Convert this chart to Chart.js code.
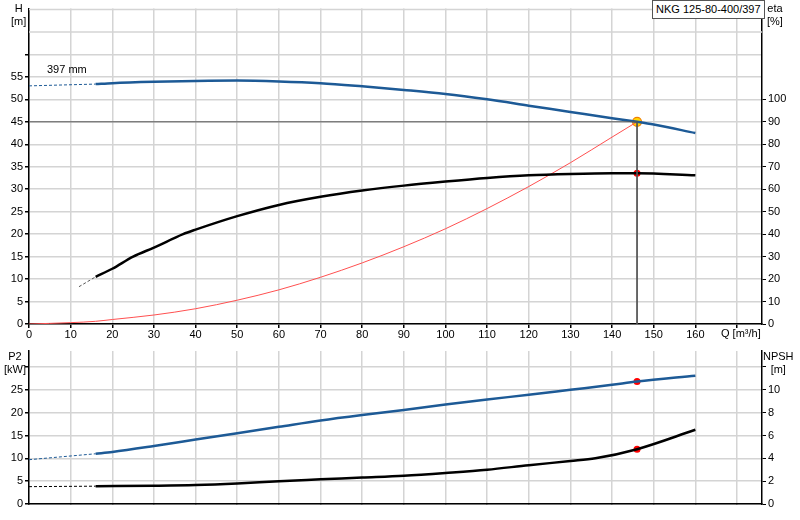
<!DOCTYPE html>
<html><head><meta charset="utf-8">
<script src="https://cdn.jsdelivr.net/npm/chart.js@4.4.1/dist/chart.umd.min.js"></script>
<style>
body{margin:0;background:#fff;width:800px;height:520px;position:relative;overflow:hidden;font-family:"Liberation Sans",Arial,sans-serif;}
canvas{position:absolute;left:0}
.t{position:absolute;font-size:11px;color:#000;line-height:13px}
</style></head><body>
<canvas id="c1" style="top:0;width:800px;height:340px" width="800" height="340"></canvas>
<canvas id="c2" style="top:340px;width:800px;height:180px" width="800" height="180"></canvas>
<div class="t" style="left:11px;top:2px;text-align:center">H<br>[m]</div>
<div class="t" style="left:767px;top:2px;text-align:center">eta<br>[%]</div>
<div class="t" style="left:721px;top:327px">Q [m³/h]</div>
<div class="t" style="left:47px;top:63px">397 mm</div>
<div class="t" style="left:652px;top:0px;border:1px solid #555;padding:2px 3px;background:#fff;height:13px">NKG 125-80-400/397</div>
<div class="t" style="left:4px;top:350px;text-align:center">P2<br>[kW]</div>
<div class="t" style="left:763px;top:350px;text-align:center">NPSH<br>[m]</div>
<script>
// ---- data ----
const qTicks=[0,10,20,30,40,50,60,70,80,90,100,110,120,130,140,150,160];
const hDashQ=[0,16], hDashV=[53,53.4];
const hQ=[16,20,30,40,50,60,70,80,90,100,110,120,130,140,146,150,160];
const hV=[53.4,53.6,53.9,54.1,54.2,54.0,53.6,52.9,52.1,51.2,50.0,48.6,47.2,45.8,45,44.4,42.5];
const etaDashQ=[12,16], etaDashV=[16.6,21];
const etaQ=[16,20,25,30,37,40,50,60,70,80,90,100,110,120,130,140,146,160];
const etaV=[21,24.6,30,34,40,42,48,53,56.6,59.4,61.6,63.4,65,66.2,66.8,67.1,67.1,66.2];
const sysQ=[0,10,16,20,30,40,50,60,70,80,90,100,110,120,130,140,146];
const sysV=[0,0.3,0.6,1,2,3.4,5.3,7.6,10.4,13.6,17.2,21.2,25.7,30.6,35.9,41.6,45];
const dutyQ=146, dutyH=45, dutyEta=67.1;
const p2DashQ=[0,16], p2DashV=[9.7,11.0];
const p2Q=[16,20,30,40,50,60,70,80,90,100,110,120,130,140,146,160];
const p2V=[11.0,11.4,12.7,14.1,15.5,16.9,18.3,19.5,20.6,21.8,22.9,23.9,25.0,26.1,26.8,28.1];
const npDashQ=[0,16], npDashV=[1.52,1.56];
const npQ=[16,30,40,50,60,70,80,90,100,110,120,130,136,146,160];
const npV=[1.56,1.6,1.66,1.8,2.0,2.16,2.32,2.48,2.72,3.0,3.4,3.76,4.0,4.8,6.5];
const dutyP2=26.8, dutyNpsh=4.8;
// ---- helpers ----
const pts=(xs,ys)=>xs.map((x,i)=>({x,y:ys[i]}));
const F={family:"Liberation Sans",size:11};
const ln=(data,color,w,axis,dash,extra)=>Object.assign({data,borderColor:color,backgroundColor:color,borderWidth:w,yAxisID:axis,showLine:true,pointRadius:0,cubicInterpolationMode:'monotone',borderDash:dash||[]},extra||{});
const fitW=(w)=>function(s){s.width=w;};
const fitH=(h)=>function(s){s.height=h;};
const grid={color:'#d4d4d4',lineWidth:1.5,tickLength:4,tickColor:'#000'};
const xScale=(labels)=>({type:'linear',min:0,max:176,afterFit:fitH(16),afterBuildTicks(s){s.ticks=[...qTicks,170].map(v=>({value:v}));},
  grid:Object.assign({},grid,{tickLength:labels?4:0}),border:{color:'#000',width:1.5},
  ticks:{display:labels,color:'#000',font:F,padding:0,maxRotation:0,autoSkip:false,callback:v=>v<=160?v:''}});
Chart.defaults.animation=false;
const dot=(x,y,axis)=>({data:[{x,y}],yAxisID:axis,pointRadius:3.5,pointBackgroundColor:'#f00',pointBorderColor:'#f00',pointBorderWidth:0});
const topGrid={id:'topGrid',beforeDatasetsDraw(c){const a=c.chartArea,y=c.scales.y,ctx=c.ctx;ctx.save();ctx.strokeStyle='#d4d4d4';ctx.lineWidth=1.5;
  [65,70].forEach(v=>{const p=y.getPixelForValue(v);if(p>=a.top-1){ctx.beginPath();ctx.moveTo(a.left,p);ctx.lineTo(a.right,p);ctx.stroke();}});ctx.restore();}};
new Chart(document.getElementById('c1'),{type:'scatter',
 data:{datasets:[
  ln([{x:0,y:dutyH},{x:dutyQ,y:dutyH},{x:dutyQ,y:0}],'#555',1,'y',null,{cubicInterpolationMode:'default',tension:0}),
  ln(pts(hDashQ,hDashV),'#1d5a96',1,'y',[3,2]),
  ln(pts(hQ,hV),'#1d5a96',2.5,'y'),
  ln(pts(etaDashQ,etaDashV),'#555',1,'y2',[3,2]),
  ln(pts(etaQ,etaV),'#000',2.5,'y2'),
  ln(pts(sysQ,sysV),'#ff5050',1,'y'),
  dot(dutyQ,dutyEta,'y2'),
  {data:[{x:dutyQ,y:dutyH}],yAxisID:'y',pointRadius:4.5,pointBackgroundColor:'#ffd700',pointBorderColor:'#f08000',pointBorderWidth:1.2}
 ]},
 plugins:[topGrid],
 options:{responsive:false,devicePixelRatio:1,layout:{padding:{top:0,bottom:0,left:0,right:0}},
  plugins:{legend:{display:false},tooltip:{enabled:false}},
  scales:{x:xScale(true),
   y:{position:'left',min:0,max:70.2,afterFit:fitW(29),afterBuildTicks(s){s.ticks=Array.from({length:13},(_,i)=>({value:i*5}));},
      grid,border:{color:'#000',width:1.5},ticks:{color:'#000',font:F,padding:2,callback:v=>v<=55?v:''}},
   y2:{position:'right',min:0,max:140.4,afterFit:fitW(38),afterBuildTicks(s){s.ticks=Array.from({length:11},(_,i)=>({value:i*10}));},
      grid:{drawOnChartArea:false,tickLength:4,tickColor:'#000'},border:{color:'#000',width:1.5},ticks:{color:'#000',font:F,padding:2}}}}});
new Chart(document.getElementById('c2'),{type:'scatter',
 data:{datasets:[
  ln(pts(p2DashQ,p2DashV),'#1d5a96',1,'y',[3,2]),
  ln(pts(p2Q,p2V),'#1d5a96',2.5,'y'),
  ln(pts(npDashQ,npDashV),'#000',1,'y2',[3,2]),
  ln(pts(npQ,npV),'#000',2.5,'y2'),
  dot(dutyQ,dutyP2,'y'),
  dot(dutyQ,dutyNpsh,'y2')
 ]},
 options:{responsive:false,devicePixelRatio:1,layout:{padding:{top:11,bottom:0}},
  plugins:{legend:{display:false},tooltip:{enabled:false}},
  scales:{x:xScale(false),
   y:{position:'left',min:0,max:33.5,afterFit:fitW(29),afterBuildTicks(s){s.ticks=[0,5,10,15,20,25,30].map(v=>({value:v}));},
      grid,border:{color:'#000',width:1.5},ticks:{color:'#000',font:F,padding:2,callback:v=>v<=25?v:''}},
   y2:{position:'right',min:0,max:13.4,afterFit:fitW(38),afterBuildTicks(s){s.ticks=[0,2,4,6,8,10,12].map(v=>({value:v}));},
      grid:{drawOnChartArea:false,tickLength:4,tickColor:'#000'},border:{color:'#000',width:1.5},ticks:{color:'#000',font:F,padding:2,callback:v=>v<=10?v:''}}}}});
</script></body></html>
